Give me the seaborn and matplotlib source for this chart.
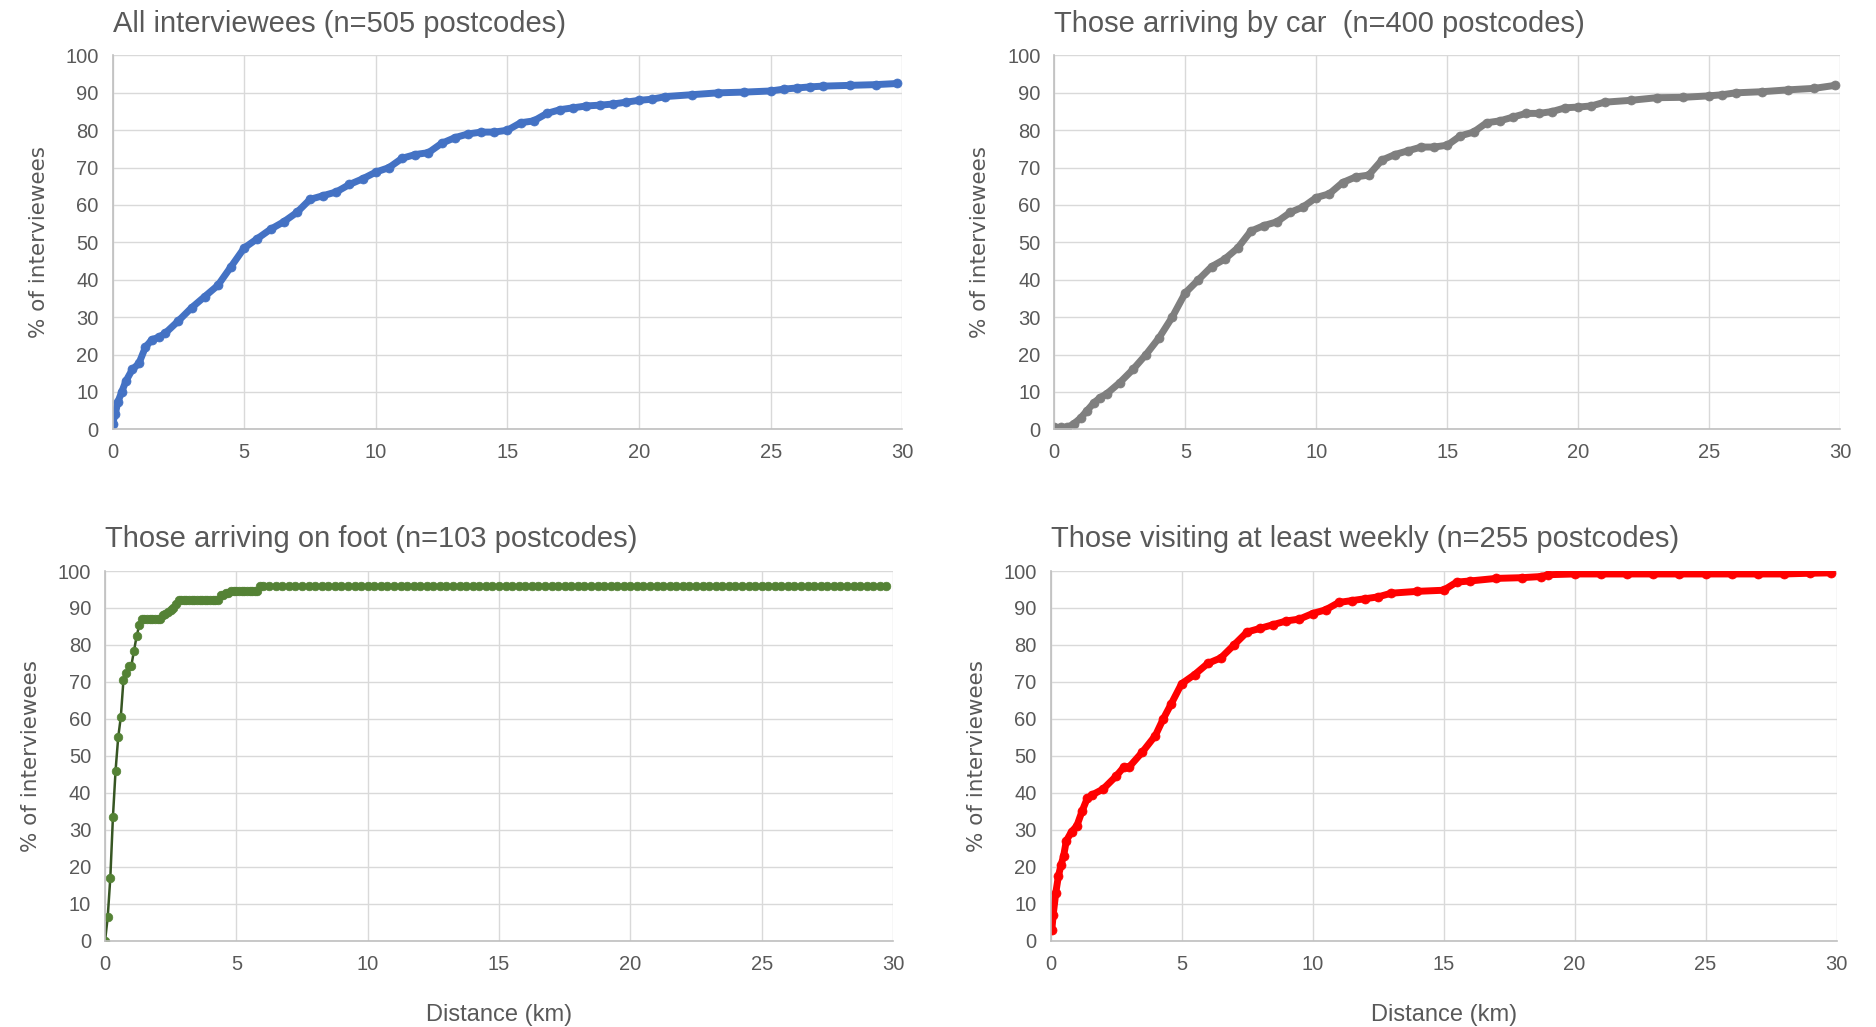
import matplotlib
matplotlib.use("Agg")
import matplotlib.pyplot as plt
import pandas as pd
import seaborn as sns

# --- cumulative share of interviewees by distance ---

all_km = [0, 0.1, 0.2, 0.35, 0.5, 0.75, 1.0, 1.25, 1.5, 1.75,
          2.0, 2.5, 3.0, 3.5, 4.0, 4.5, 5.0, 5.5, 6.0, 6.5,
          7.0, 7.5, 8.0, 8.5, 9.0, 9.5, 10.0, 10.5, 11.0, 11.5,
          12.0, 12.5, 13.0, 13.5, 14.0, 14.5, 15.0, 15.5, 16.0, 16.5,
          17.0, 17.5, 18.0, 18.5, 19.0, 19.5, 20.0, 20.5, 21.0, 22.0,
          23.0, 24.0, 25.0, 25.5, 26.0, 26.5, 27.0, 28.0, 29.0, 29.8]
all_pct = [1.5, 4, 7.3, 10, 12.8, 16, 17.6, 22, 24, 24.6,
           25.7, 29, 32.5, 35.5, 38.5, 43.5, 48.5, 51, 53.5, 55.5,
           58, 61.5, 62.5, 63.5, 65.5, 67, 68.8, 70, 72.5, 73.5,
           74, 76.5, 78, 79, 79.5, 79.5, 80, 82, 82.5, 84.5,
           85.5, 86, 86.5, 86.7, 87, 87.5, 88, 88.3, 89, 89.5,
           90, 90.2, 90.5, 91, 91.3, 91.6, 91.8, 92, 92.2, 92.5]

car_km = [0, 0.25, 0.5, 0.75, 1.0, 1.25, 1.5, 1.75, 2.0, 2.5,
          3.0, 3.5, 4.0, 4.5, 5.0, 5.5, 6.0, 6.5, 7.0, 7.5,
          8.0, 8.5, 9.0, 9.5, 10.0, 10.5, 11.0, 11.5, 12.0, 12.5,
          13.0, 13.5, 14.0, 14.5, 15.0, 15.5, 16.0, 16.5, 17.0, 17.5,
          18.0, 18.5, 19.0, 19.5, 20.0, 20.5, 21.0, 22.0, 23.0, 24.0,
          25.0, 25.5, 26.0, 27.0, 28.0, 29.0, 29.8]
car_pct = [0.5, 0.5, 0.5, 1.5, 3, 5, 7, 8.5, 9.5, 12.5,
           16, 20, 24.5, 30, 36.5, 40, 43.5, 45.5, 48.5, 53,
           54.5, 55.5, 58, 59.5, 62, 63, 66, 67.5, 68, 72,
           73.5, 74.5, 75.5, 75.5, 76, 78.5, 79.5, 82, 82.5, 83.5,
           84.5, 84.5, 85, 86, 86.2, 86.5, 87.5, 88, 88.7, 88.8,
           89.2, 89.5, 90, 90.3, 90.8, 91.2, 92]

foot_km = [0.0, 0.1, 0.2, 0.3, 0.4, 0.5, 0.6, 0.7, 0.8, 0.9,
           1.0, 1.1, 1.2, 1.3, 1.4, 1.5, 1.6, 1.7, 1.8, 1.9,
           2.0, 2.1, 2.2, 2.3, 2.4, 2.5, 2.6, 2.7, 2.8, 2.9,
           3.0, 3.1, 3.2, 3.3, 3.4, 3.5, 3.6, 3.7, 3.8, 3.9,
           4.0, 4.1, 4.2, 4.3, 4.4, 4.5, 4.6, 4.7, 4.8, 4.9,
           5.0, 5.1, 5.2, 5.3, 5.4, 5.5, 5.6, 5.7, 5.8, 5.9,
           6.0, 6.25, 6.5, 6.75, 7.0, 7.25, 7.5, 7.75, 8.0, 8.25,
           8.5, 8.75, 9.0, 9.25, 9.5, 9.75, 10.0, 10.25, 10.5, 10.75,
           11.0, 11.25, 11.5, 11.75, 12.0, 12.25, 12.5, 12.75, 13.0, 13.25,
           13.5, 13.75, 14.0, 14.25, 14.5, 14.75, 15.0, 15.25, 15.5, 15.75,
           16.0, 16.25, 16.5, 16.75, 17.0, 17.25, 17.5, 17.75, 18.0, 18.25,
           18.5, 18.75, 19.0, 19.25, 19.5, 19.75, 20.0, 20.25, 20.5, 20.75,
           21.0, 21.25, 21.5, 21.75, 22.0, 22.25, 22.5, 22.75, 23.0, 23.25,
           23.5, 23.75, 24.0, 24.25, 24.5, 24.75, 25.0, 25.25, 25.5, 25.75,
           26.0, 26.25, 26.5, 26.75, 27.0, 27.25, 27.5, 27.75, 28.0, 28.25,
           28.5, 28.75, 29.0, 29.25, 29.5, 29.75]
foot_pct = [0, 6.3, 17, 33.5, 46, 55, 60.5, 70.5, 72.3, 74.4,
            74.4, 78.4, 82.3, 85.3, 87, 87, 87, 87, 87, 87,
            87, 87, 88.2, 88.5, 89, 89.5, 90, 91, 92.1, 92.1,
            92.1, 92.1, 92.1, 92.1, 92.1, 92.1, 92.1, 92.1, 92.1, 92.1,
            92.1, 92.1, 92.1, 92.1, 93.4, 93.4, 94.1, 94.1, 94.5, 94.5,
            94.5, 94.5, 94.5, 94.5, 94.5, 94.5, 94.5, 94.5, 94.5, 96,
            96, 96, 96, 96, 96, 96, 96, 96, 96, 96,
            96, 96, 96, 96, 96, 96, 96, 96, 96, 96,
            96, 96, 96, 96, 96, 96, 96, 96, 96, 96,
            96, 96, 96, 96, 96, 96, 96, 96, 96, 96,
            96, 96, 96, 96, 96, 96, 96, 96, 96, 96,
            96, 96, 96, 96, 96, 96, 96, 96, 96, 96,
            96, 96, 96, 96, 96, 96, 96, 96, 96, 96,
            96, 96, 96, 96, 96, 96, 96, 96, 96, 96,
            96, 96, 96, 96, 96, 96, 96, 96, 96, 96,
            96, 96, 96, 96, 96, 96]

weekly_km = [0.05, 0.1, 0.2, 0.3, 0.4, 0.5, 0.6, 0.8, 1.0, 1.2,
             1.4, 1.6, 2.0, 2.5, 2.8, 3.0, 3.5, 4.0, 4.3, 4.6,
             5.0, 5.5, 6.0, 6.5, 7.0, 7.5, 8.0, 8.5, 9.0, 9.5,
             10.0, 10.5, 11.0, 11.5, 12.0, 12.5, 13.0, 14.0, 15.0, 15.5,
             16.0, 17.0, 18.0, 18.7, 19.0, 20.0, 21.0, 22.0, 23.0, 24.0,
             25.0, 26.0, 27.0, 28.0, 29.0, 29.8]
weekly_pct = [3, 7, 13, 17.5, 20.5, 23, 27, 29.5, 31, 35,
              38.5, 39.5, 41, 44.5, 47, 47, 51, 55.5, 60, 64,
              69.5, 72, 75, 76.5, 80, 83.5, 84.5, 85.5, 86.5, 87,
              88.5, 89.5, 91.5, 92, 92.5, 93, 94, 94.5, 94.8, 97,
              97.3, 98, 98.2, 98.5, 99, 99.2, 99.2, 99.2, 99.2, 99.2,
              99.2, 99.2, 99.2, 99.2, 99.4, 99.5]

titles = ["All interviewees (n=505 postcodes)",
          "Those arriving by car  (n=400 postcodes)",
          "Those arriving on foot (n=103 postcodes)",
          "Those visiting at least weekly (n=255 postcodes)"]

TEXT = "#595959"

sns.set_theme(style="whitegrid")
plt.rcParams["font.family"] = ["Liberation Sans", "DejaVu Sans"]

fig = plt.figure(figsize=(18.76, 10.27), dpi=100)

panels = [
    # (km, pct, line colour, marker colour, line width, marker size, axes box, show x label)
    (all_km, all_pct, "#4472C4", "#4472C4", 5.0, 6.5, [0.060, 0.582, 0.421, 0.364], False),
    (car_km, car_pct, "#7F7F7F", "#7F7F7F", 5.0, 6.5, [0.562, 0.582, 0.419, 0.364], False),
    (foot_km, foot_pct, "#375623", "#548235", 1.8, 6.2, [0.056, 0.084, 0.420, 0.360], True),
    (weekly_km, weekly_pct, "#FF0000", "#FF0000", 5.0, 6.5, [0.560, 0.084, 0.419, 0.360], True),
]

for (km, pct, lc, mc, lw, ms, box, xlab), title in zip(panels, titles):
    ax = fig.add_axes(box)
    df = pd.DataFrame({"km": km, "pct": pct})
    sns.lineplot(data=df, x="km", y="pct", ax=ax, color=lc, linewidth=lw,
                 marker="o", markersize=ms, markerfacecolor=mc,
                 markeredgecolor=mc, markeredgewidth=0.5, estimator=None)
    ax.set_xlim(0, 30)
    ax.set_ylim(0, 100)
    ax.set_xticks(range(0, 31, 5))
    ax.set_yticks(range(0, 101, 10))
    ax.grid(True, color="#D9D9D9", linewidth=1.0)
    for side in ["top", "right"]:
        ax.spines[side].set_visible(False)
    for side in ["left", "bottom"]:
        ax.spines[side].set_color("#BFBFBF")
        ax.spines[side].set_linewidth(1.2)
    ax.tick_params(length=0, labelsize=14.5, labelcolor=TEXT, pad=10)
    ax.set_title(title, loc="left", fontsize=21, color=TEXT, pad=17)
    ax.set_ylabel("% of interviewees", fontsize=15.5, color=TEXT,
                  family=["DejaVu Sans"], labelpad=12)
    if xlab:
        ax.set_xlabel("Distance (km)", fontsize=17, color=TEXT, labelpad=22)
    else:
        ax.set_xlabel("")

fig.savefig("out.png", dpi=100, facecolor="white")
plt.close(fig)
